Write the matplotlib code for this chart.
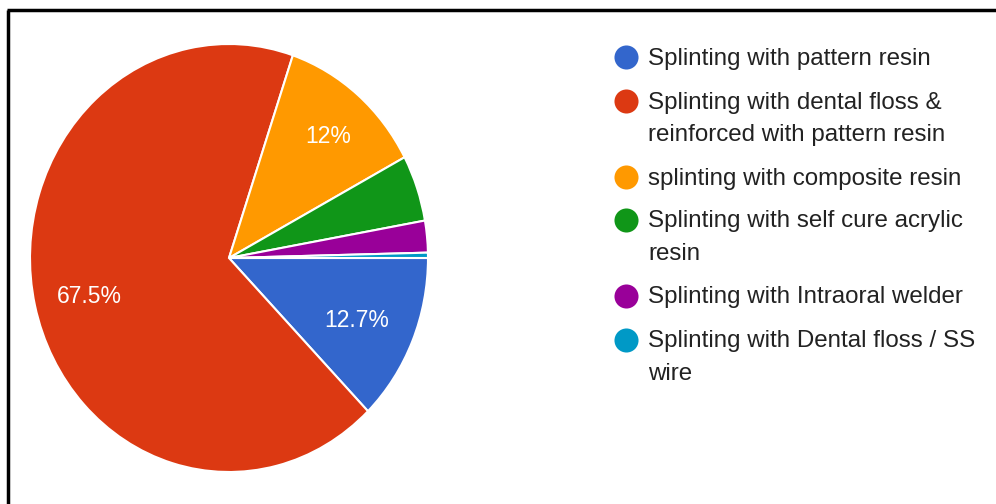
import matplotlib
matplotlib.use("Agg")
import matplotlib.pyplot as plt

categories = [
    "Splinting with pattern resin",
    "Splinting with dental floss &\nreinforced with pattern resin",
    "splinting with composite resin",
    "Splinting with self cure acrylic\nresin",
    "Splinting with Intraoral welder",
    "Splinting with Dental floss / SS\nwire",
]
shares = [12.7, 67.5, 12.0, 5.0, 2.4, 0.4]
shown_labels = ["12.7%", "67.5%", "12%", "", "", ""]
colors = ["#3366CC", "#DC3912", "#FF9900", "#109618", "#990099", "#0099C6"]

plt.rcParams["font.family"] = ["Liberation Sans", "DejaVu Sans"]

W, H = 996, 504
fig = plt.figure(figsize=(W / 100, H / 100), dpi=100)

# Pie axes (slightly taller than wide)
ax = fig.add_axes([30 / W, 32 / H, 398 / W, 428 / H])
wedges, _ = ax.pie(
    shares, colors=colors, startangle=0, counterclock=False, radius=1,
    wedgeprops=dict(edgecolor="white", linewidth=1.5),
)
ax.set_aspect("auto")
ax.set_xlim(-1, 1)
ax.set_ylim(-1, 1)
ax.axis("off")

# Percentage labels inside the slices
label_pos = {0: (0.64, -0.29), 1: (-0.70, -0.18), 2: (0.50, 0.57)}
for i, (x, y) in label_pos.items():
    ax.text(x, y, shown_labels[i], color="white",
            fontsize=16.5, ha="center", va="center")

# Overlay in pixel coordinates for the legend and frame
ov = fig.add_axes([0, 0, 1, 1])
ov.set_xlim(0, W)
ov.set_ylim(H, 0)
ov.axis("off")

first_line_y = [57, 101, 177, 220, 296, 340]
line_gap = 32
for lab, col, y in zip(categories, colors, first_line_y):
    ov.scatter([626], [y], s=300, color=col, zorder=3, linewidths=0)
    for k, line in enumerate(lab.split("\n")):
        ov.text(648, y + k * line_gap + 1.5, line, fontsize=17.4,
                color="#222222", ha="left", va="center")

# Frame lines along the top and left edges
ov.plot([7, W], [10, 10], color="black", lw=2.5, solid_capstyle="butt")
ov.plot([7.5, 7.5], [10, H], color="black", lw=2.5, solid_capstyle="butt")

fig.savefig("out.png", dpi=100)
